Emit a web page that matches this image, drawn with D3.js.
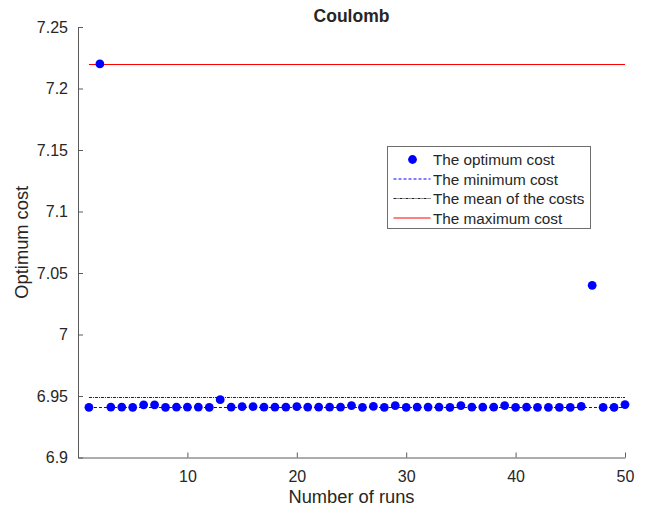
<!DOCTYPE html>
<html>
<head>
<meta charset="utf-8">
<script src="https://cdn.jsdelivr.net/npm/d3@7"></script>
<style>
  body { margin: 0; background: #fff; }
  svg text { font-family: "Liberation Sans", Arial, sans-serif; fill: #262626; }
</style>
</head>
<body>
<div class="chart"></div>
<script>
// chart size
const WIDTH = 646;
const HEIGHT = 511;

// optimum cost of each run
const runs = d3.range(1, 51);
const costs = [
  6.9408, 7.2200, 6.9410, 6.9410, 6.9408, 6.9428, 6.9428, 6.9408, 6.9410, 6.9410,
  6.9410, 6.9408, 6.9470, 6.9410, 6.9414, 6.9414, 6.9410, 6.9410, 6.9410, 6.9414,
  6.9410, 6.9410, 6.9410, 6.9410, 6.9422, 6.9408, 6.9416, 6.9408, 6.9422, 6.9408,
  6.9410, 6.9410, 6.9410, 6.9408, 6.9422, 6.9410, 6.9410, 6.9410, 6.9422, 6.9408,
  6.9410, 6.9408, 6.9408, 6.9408, 6.9408, 6.9416, 7.0400, 6.9408, 6.9408, 6.9430
];
const xTicks = [10, 20, 30, 40, 50];
const yTicks = [6.9, 6.95, 7, 7.05, 7.1, 7.15, 7.2, 7.25];
const legendLabels = ["The optimum cost", "The minimum cost", "The mean of the costs", "The maximum cost"];

const minCost = d3.min(costs);
const maxCost = d3.max(costs);
const meanCost = 6.9495; // mean line as drawn

// scales
const xScale = d3.scaleLinear().domain([0, 50]).range([78, 625]);
const yScale = d3.scaleLinear().domain([6.9, 7.25]).range([457.5, 27]);

const svg = d3.select(".chart")
  .append("svg")
  .attr("width", WIDTH)
  .attr("height", HEIGHT);

// axes (ticks point inward like matlab)
const xAxis = d3.axisBottom(xScale).tickValues(xTicks).tickSize(-5).tickPadding(13).tickSizeOuter(0);
const yAxis = d3.axisLeft(yScale).tickValues(yTicks).tickSize(-5).tickPadding(10)
  .tickSizeOuter(0).tickFormat(d => String(+d.toFixed(2)));

const gx = svg.append("g").attr("transform", `translate(0,${yScale(6.9)})`).call(xAxis);
const gy = svg.append("g").attr("transform", `translate(${xScale(0)},0)`).call(yAxis);
[gx, gy].forEach(g => {
  g.select(".domain").attr("stroke", "#5a5a5a");
  g.selectAll(".tick line").attr("stroke", "#5a5a5a");
  g.selectAll(".tick text").style("font-size", "16px").attr("fill", "#262626");
});

// reference lines
const line = d3.line().x(d => xScale(d[0])).y(d => Math.round(yScale(d[1])) + 0.5);
svg.append("path")
  .attr("d", line([[1, minCost], [50, minCost]]))
  .attr("stroke", "#0000ff").attr("stroke-width", 1).attr("stroke-dasharray", "3,2").attr("fill", "none");
svg.append("path")
  .attr("d", line([[1, meanCost], [50, meanCost]]))
  .attr("stroke", "#222").attr("stroke-width", 1).attr("stroke-dasharray", "3,1,1,1").attr("fill", "none");
svg.append("path")
  .attr("d", line([[1, maxCost], [50, maxCost]]))
  .attr("stroke", "#ff0000").attr("stroke-width", 1).attr("fill", "none");

// points
svg.append("g").selectAll("circle")
  .data(runs)
  .join("circle")
  .attr("cx", (d) => xScale(d))
  .attr("cy", (d, i) => yScale(costs[i]))
  .attr("r", 4.4)
  .attr("fill", "#0000ff");

// title and labels
svg.append("text")
  .attr("x", (xScale(0) + xScale(50)) / 2).attr("y", 22)
  .attr("text-anchor", "middle")
  .style("font-size", "17.5px").style("font-weight", "bold")
  .attr("fill", "#000")
  .text("Coulomb");
svg.append("text")
  .attr("x", (xScale(0) + xScale(50)) / 2).attr("y", 503)
  .attr("text-anchor", "middle")
  .style("font-size", "18.3px")
  .text("Number of runs");
svg.append("text")
  .attr("transform", `translate(28,${(yScale(6.9) + yScale(7.25)) / 2}) rotate(-90)`)
  .attr("text-anchor", "middle")
  .style("font-size", "18.3px")
  .text("Optimum cost");

// legend
const legend = svg.append("g").attr("transform", "translate(387.5,146.5)");
legend.append("rect")
  .attr("width", 203).attr("height", 82)
  .attr("fill", "#fff").attr("stroke", "#6e6e6e").attr("stroke-width", 1);
const rows = legend.selectAll("g.row")
  .data(legendLabels)
  .join("g")
  .attr("class", "row")
  .attr("transform", (d, i) => `translate(0,${13 + i * 19.5})`);
rows.append("text")
  .attr("x", 45.5).attr("y", 5.5)
  .style("font-size", "15.3px")
  .attr("fill", "#000")
  .text(d => d);
rows.filter((d, i) => i === 0).append("circle")
  .attr("cx", 25).attr("cy", 0).attr("r", 4.4).attr("fill", "#0000ff");
rows.filter((d, i) => i === 1).append("line")
  .attr("x1", 6).attr("x2", 43).attr("stroke", "#0000ff").attr("stroke-width", 1).attr("stroke-dasharray", "3,2");
rows.filter((d, i) => i === 2).append("line")
  .attr("x1", 6).attr("x2", 43).attr("stroke", "#222").attr("stroke-width", 1).attr("stroke-dasharray", "3,1,1,1");
rows.filter((d, i) => i === 3).append("line")
  .attr("x1", 6).attr("x2", 43).attr("stroke", "#ff0000").attr("stroke-width", 1);
</script>
</body>
</html>
